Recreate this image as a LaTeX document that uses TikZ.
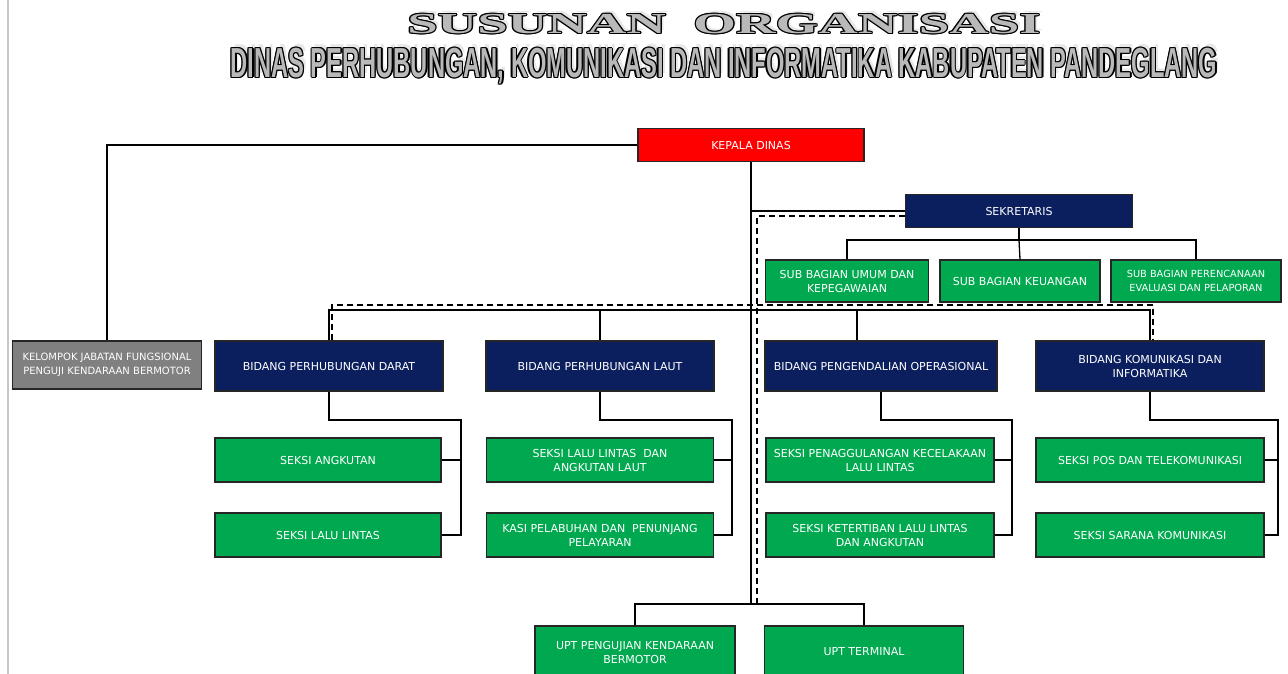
\documentclass[tikz,border=0pt]{standalone}
\usepackage{fontspec}
\setmainfont{DejaVu Sans}
\newfontfamily\judulfont{Liberation Serif}
\newfontfamily\dinasfont{Liberation Sans}
\definecolor{kepalared}{HTML}{FF0000}
\definecolor{bidangblue}{HTML}{0B1F5E}
\definecolor{seksigreen}{HTML}{00A84F}
\definecolor{jabgray}{HTML}{808080}

\begin{document}
\begin{tikzpicture}[x=1pt, y=-1pt,
    box/.style={draw=black!85, line width=1.3pt, text=white, align=center,
      inner sep=0pt, font=\fontsize{11}{14}\selectfont},
    kecil/.style={font=\fontsize{9.8}{14}\selectfont},
    redbox/.style={box, fill=kepalared, minimum width=226, minimum height=33},
    bluebox/.style={box, fill=bidangblue, minimum width=228, minimum height=50},
    greenbox/.style={box, fill=seksigreen, minimum width=226, minimum height=44},
    graybox/.style={box, fill=jabgray, minimum width=189, minimum height=48},
    link/.style={black, line width=1.3pt},
    dashline/.style={black, line width=1.3pt, dash pattern=on 6pt off 4pt},
    judulone/.style={font=\judulfont\bfseries\fontsize{29}{30}\selectfont, xscale=1.89, inner sep=0pt},
    judultwo/.style={font=\dinasfont\bfseries\fontsize{42}{44}\selectfont, xscale=0.564, inner sep=0pt}]
    \useasboundingbox (0,0) rectangle (1288,674);
    \draw[gray!45, line width=1.5pt] (8,0) -- (8,674);

    % judul
    \node[judulone, text=gray!18] at (727,21) {SUSUNAN\hspace{0.5em}ORGANISASI};
    \node[judultwo, text=gray!18] at (727,62) {DINAS PERHUBUNGAN, KOMUNIKASI DAN INFORMATIKA KABUPATEN PANDEGLANG};
    \foreach \dx/\dy in {-1.3/0, 1.3/0, 0/-1.3, 0/1.3, -0.9/-0.9, 0.9/0.9, -0.9/0.9, 0.9/-0.9} {
        \node[judulone, text=black] at ([xshift=\dx, yshift=\dy]724,24) {SUSUNAN\hspace{0.5em}ORGANISASI};
        \node[judultwo, text=black] at ([xshift=\dx, yshift=\dy]724,66) {DINAS PERHUBUNGAN, KOMUNIKASI DAN INFORMATIKA KABUPATEN PANDEGLANG};
    }
    \node[judulone, text=gray!55] (judul) at (724,24) {SUSUNAN\hspace{0.5em}ORGANISASI};
    \node[judultwo, text=gray!55] (dinas) at (724,66) {DINAS PERHUBUNGAN, KOMUNIKASI DAN INFORMATIKA KABUPATEN PANDEGLANG};

    % kotak
    \node[redbox] (kepala) at (751,145) {KEPALA DINAS};
    \node[graybox, kecil, font=\fontsize{10}{14}\selectfont] (jabatan) at (107,365) {KELOMPOK JABATAN FUNGSIONAL\\PENGUJI KENDARAAN BERMOTOR};
    \node[bluebox, minimum width=227, minimum height=33] (sekretaris) at (1019,211) {SEKRETARIS};
    \node[greenbox, minimum width=163, minimum height=42] (umum) at (847,281) {SUB BAGIAN UMUM DAN\\KEPEGAWAIAN};
    \node[greenbox, minimum width=160, minimum height=42] (keuangan) at (1020,281) {SUB BAGIAN KEUANGAN};
    \node[greenbox, kecil, minimum width=170, minimum height=42] (perencanaan) at (1196,281) {SUB BAGIAN PERENCANAAN\\EVALUASI DAN PELAPORAN};

    \node[bluebox] (darat) at (329,366) {BIDANG PERHUBUNGAN DARAT};
    \node[bluebox] (laut) at (600,366) {BIDANG PERHUBUNGAN LAUT};
    \node[bluebox, minimum width=232] (operasi) at (881,366) {BIDANG PENGENDALIAN OPERASIONAL};
    \node[bluebox] (kominfo) at (1150,366) {BIDANG KOMUNIKASI DAN\\INFORMATIKA};

    \node[greenbox] (angkutan) at (328,460) {SEKSI ANGKUTAN};
    \node[greenbox] (lalulintas) at (328,535) {SEKSI LALU LINTAS};
    \node[greenbox, minimum width=227] (lautlalu) at (600,460) {SEKSI LALU LINTAS\ \ DAN\\ANGKUTAN LAUT};
    \node[greenbox, minimum width=227] (pelabuhan) at (600,535) {KASI PELABUHAN DAN\ \ PENUNJANG\\PELAYARAN};
    \node[greenbox, minimum width=228] (kecelakaan) at (880,460) {SEKSI PENAGGULANGAN KECELAKAAN\\LALU LINTAS};
    \node[greenbox, minimum width=228] (ketertiban) at (880,535) {SEKSI KETERTIBAN LALU LINTAS\\DAN ANGKUTAN};
    \node[greenbox, minimum width=228] (pos) at (1150,460) {SEKSI POS DAN TELEKOMUNIKASI};
    \node[greenbox, minimum width=228] (sarana) at (1150,535) {SEKSI SARANA KOMUNIKASI};

    \node[greenbox, minimum width=200, minimum height=52] (pengujian) at (635,652) {UPT PENGUJIAN KENDARAAN\\BERMOTOR};
    \node[greenbox, minimum width=199, minimum height=52] (terminal) at (864,652) {UPT TERMINAL};

    % titik bantu
    \coordinate (subbus) at (1019,240);
    \coordinate (bidbus) at (751,310);
    \coordinate (uptbus) at (751,604);
    \coordinate (tdarat) at (461,420);
    \coordinate (tlaut) at (732,420);
    \coordinate (toperasi) at (1012,420);
    \coordinate (tkominfo) at (1278,420);
    \coordinate (dtop) at (757,216);
    \coordinate (dbid) at (757,305);
    \coordinate (dupt) at (757,604);

    % garis
    \draw[link] (kepala.west) -| (jabatan.north);
    \draw[link] (kepala.south) -- (uptbus);
    \draw[link] (kepala.south |- sekretaris.west) -- (sekretaris.west);
    \draw[link] (sekretaris.south) -- (subbus);
    \draw[link] (umum.north) |- (subbus) -| (perencanaan.north);
    \draw[link] (subbus) -- (keuangan.north);

    \draw[link] (darat.north) |- (bidbus) -| (kominfo.north);
    \draw[link] (laut.north) |- (bidbus);
    \draw[link] ([xshift=-24]operasi.north) |- (bidbus);

    \draw[link] (darat.south) |- (tdarat) |- (lalulintas.east);
    \draw[link] (angkutan.east) -- (angkutan.east -| tdarat);
    \draw[link] (laut.south) |- (tlaut) |- (pelabuhan.east);
    \draw[link] (lautlalu.east) -- (lautlalu.east -| tlaut);
    \draw[link] (operasi.south) |- (toperasi) |- (ketertiban.east);
    \draw[link] (kecelakaan.east) -- (kecelakaan.east -| toperasi);
    \draw[link] (kominfo.south) |- (tkominfo) |- (sarana.east);
    \draw[link] (pos.east) -- (pos.east -| tkominfo);

    \draw[link] (pengujian.north) |- (uptbus) -| (terminal.north);

    \draw[dashline] (sekretaris.west |- dtop) -- (dtop) -- (dupt);
    \draw[dashline] ([xshift=3]darat.north) |- (dbid) -| ([xshift=3]kominfo.north);
\end{tikzpicture}
\end{document}
